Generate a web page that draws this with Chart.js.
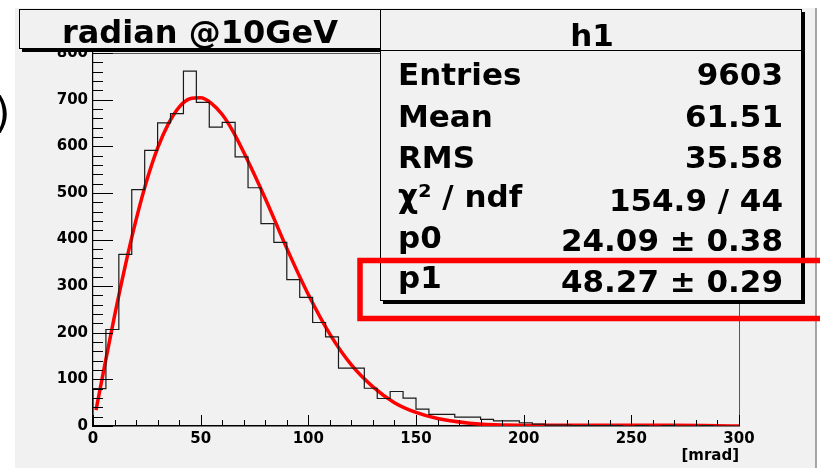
<!DOCTYPE html>
<html>
<head>
<meta charset="utf-8">
<script src="https://cdn.jsdelivr.net/npm/chart.js@4.4.1/dist/chart.umd.min.js"></script>
<style>
  html, body { margin: 0; padding: 0; background: #fff; }
</style>
</head>
<body>
<canvas id="histChart" width="820" height="468"></canvas>
<script>
// Histogram h1: 50 bins of 6 mrad, low edges and counts
const binLow = [0, 6, 12, 18, 24, 30, 36, 42, 48, 54, 60, 66, 72, 78, 84, 90, 96, 102, 108, 114,
  120, 126, 132, 138, 144, 150, 156, 162, 168, 174, 180, 186, 192, 198, 204, 210, 216, 222, 228, 234,
  240, 246, 252, 258, 264, 270, 276, 282, 288, 294];
const binCounts = [80, 207, 368, 507, 591, 650, 670, 761, 694, 641, 651, 577, 511, 434, 394, 314, 276, 222, 191, 124,
  124, 81, 59, 74, 60, 36, 25, 25, 19, 19, 14, 11, 11, 7, 4, 2, 2, 1, 1, 1,
  1, 0, 1, 0, 1, 0, 0, 1, 0, 0];
const xMax = 300;

// Fit curve
const fitX = [1.4, 5, 10, 15, 20, 25, 30, 35, 40, 45, 50, 55, 60, 65, 70, 80, 90, 100, 110, 120,
  130, 140, 150, 160, 175, 190, 210, 240, 270, 300];
const fitY = [34, 120, 236, 344, 442, 527, 596, 648, 684, 702, 704, 692, 668, 632, 587, 488, 381, 282, 197, 131,
  84, 50, 29, 16, 6, 2, 1.5, 1.5, 1.5, 0];

// Stats box
const histTitle = 'radian @10GeV';
const statsName = 'h1';
const statsLabels = ['Entries', 'Mean', 'RMS', 'χ² / ndf', 'p0', 'p1'];
const statsValues = ['9603', '61.51', '35.58', '154.9 / 44', '24.09 ± 0.38', '48.27 ± 0.29'];

const FONT = '"DejaVu Sans", "Liberation Sans", sans-serif';
const PANEL = '#f1f1f1';

// histogram outline points (step line)
const histPoints = [{x: 0, y: 0}];
binLow.forEach((lo, i) => histPoints.push({x: lo, y: binCounts[i]}));
histPoints.push({x: xMax, y: binCounts[binCounts.length - 1]});
histPoints.push({x: xMax, y: 0});

const fitPoints = fitX.map((x, i) => ({x: x, y: fitY[i]}));

function paveBox(ctx, x1, y1, x2, y2) {
    ctx.fillStyle = '#000';
    ctx.fillRect(x1 + 3, y1 + 3, x2 - x1, y2 - y1);
    ctx.fillStyle = PANEL;
    ctx.fillRect(x1, y1, x2 - x1, y2 - y1);
    ctx.strokeStyle = '#000';
    ctx.lineWidth = 1;
    ctx.strokeRect(x1 + 0.5, y1 + 0.5, x2 - x1 - 1, y2 - y1 - 1);
}

const rootPad = {
    id: 'rootPad',
    beforeDraw(chart) {
        const ctx = chart.ctx;
        ctx.save();
        ctx.fillStyle = '#fff';
        ctx.fillRect(0, 0, chart.width, chart.height);
        ctx.fillStyle = PANEL;
        ctx.fillRect(15, 8, 801, chart.height - 8);
        ctx.strokeStyle = '#8a8a8a';
        ctx.lineWidth = 1.5;
        ctx.beginPath();
        ctx.moveTo(816, 8);
        ctx.lineTo(816, chart.height);
        ctx.stroke();
        ctx.restore();
    },
    afterDraw(chart) {
        const ctx = chart.ctx;
        const a = chart.chartArea;
        const xs = chart.scales.x, ys = chart.scales.y;
        ctx.save();

        // frame top + right
        ctx.strokeStyle = '#555';
        ctx.lineWidth = 1;
        ctx.beginPath();
        ctx.moveTo(a.left, a.top + 0.5);
        ctx.lineTo(a.right + 0.5, a.top + 0.5);
        ctx.lineTo(a.right + 0.5, a.bottom);
        ctx.stroke();

        // inward ticks
        ctx.strokeStyle = '#000';
        ctx.lineWidth = 1;
        ctx.beginPath();
        for (let v = 0; v <= 800; v += 20) {
            const py = Math.round(ys.getPixelForValue(v)) + 0.5;
            const len = v % 100 === 0 ? 20 : 10;
            ctx.moveTo(a.left, py);
            ctx.lineTo(a.left + len, py);
        }
        for (let v = 0; v <= 300; v += 10) {
            const px = Math.round(xs.getPixelForValue(v)) + 0.5;
            const len = v % 50 === 0 ? 11 : 6;
            ctx.moveTo(px, a.bottom);
            ctx.lineTo(px, a.bottom - len);
        }
        ctx.stroke();

        // title pave
        paveBox(ctx, 19, 9, 381, 49);
        ctx.fillStyle = '#000';
        ctx.font = 'bold 32px ' + FONT;
        ctx.textAlign = 'center';
        ctx.textBaseline = 'alphabetic';
        ctx.fillText(histTitle, 200, 43);

        // stats pave
        paveBox(ctx, 380, 9, 802, 301);
        ctx.strokeStyle = '#000';
        ctx.lineWidth = 1;
        ctx.beginPath();
        ctx.moveTo(380, 50.5);
        ctx.lineTo(802, 50.5);
        ctx.stroke();
        ctx.fillStyle = '#000';
        ctx.font = 'bold 31px ' + FONT;
        ctx.textAlign = 'center';
        ctx.fillText(statsName, 592, 46);
        const labelBase = [85, 126.5, 168, 207, 248, 288];
        const valueBase = [85, 126.5, 168, 210.5, 250.5, 291.5];
        statsLabels.forEach((t, i) => {
            ctx.textAlign = 'left';
            ctx.fillText(t, 398, labelBase[i]);
            ctx.textAlign = 'right';
            ctx.fillText(statsValues[i], 783, valueBase[i]);
        });

        // red highlight frame
        ctx.strokeStyle = '#ff0000';
        ctx.lineWidth = 5.5;
        ctx.strokeRect(360, 260.5, 500, 58);

        // clipped glyph at far left
        ctx.fillStyle = '#000';
        ctx.font = '42px ' + FONT;
        ctx.textAlign = 'left';
        ctx.fillText(')', -6, 128);

        ctx.restore();
    }
};

const ctx = document.getElementById('histChart').getContext('2d');
const chart = new Chart(ctx, {
    type: 'line',
    data: {
        datasets: [
            {
                label: 'h1',
                data: histPoints,
                stepped: 'before',
                borderColor: '#1a1a1a',
                borderWidth: 1.2,
                pointRadius: 0,
                fill: false,
                clip: 0
            },
            {
                label: 'fit',
                data: fitPoints,
                borderColor: '#ff0000',
                borderWidth: 3.5,
                cubicInterpolationMode: 'monotone',
                pointRadius: 0,
                fill: false,
                clip: 0
            }
        ]
    },
    options: {
        responsive: false,
        animation: false,
        layout: { padding: { top: 53, right: 81, left: 0, bottom: 0 } },
        plugins: {
            legend: { display: false },
            tooltip: { enabled: false },
            title: { display: false }
        },
        scales: {
            x: {
                type: 'linear',
                min: 0,
                max: xMax,
                grid: { display: false, drawTicks: false },
                border: { display: true, color: '#000', width: 1.5 },
                ticks: {
                    stepSize: 50,
                    autoSkip: false,
                    maxRotation: 0,
                    padding: 4,
                    color: '#000',
                    font: { family: FONT, size: 15, weight: 'bold' }
                },
                title: {
                    display: true,
                    text: '[mrad]',
                    align: 'end',
                    color: '#000',
                    padding: { top: 0, bottom: 3 },
                    font: { family: FONT, size: 15, weight: 'bold' }
                },
                afterFit(s) { s.height = 42; }
            },
            y: {
                type: 'linear',
                min: 0,
                max: 800,
                grid: { display: false, drawTicks: false },
                border: { display: true, color: '#000', width: 1.2 },
                ticks: {
                    stepSize: 100,
                    autoSkip: false,
                    padding: 5,
                    color: '#000',
                    font: { family: FONT, size: 15, weight: 'bold' }
                },
                afterFit(s) { s.width = 93; }
            }
        }
    },
    plugins: [rootPad]
});
</script>
</body>
</html>
